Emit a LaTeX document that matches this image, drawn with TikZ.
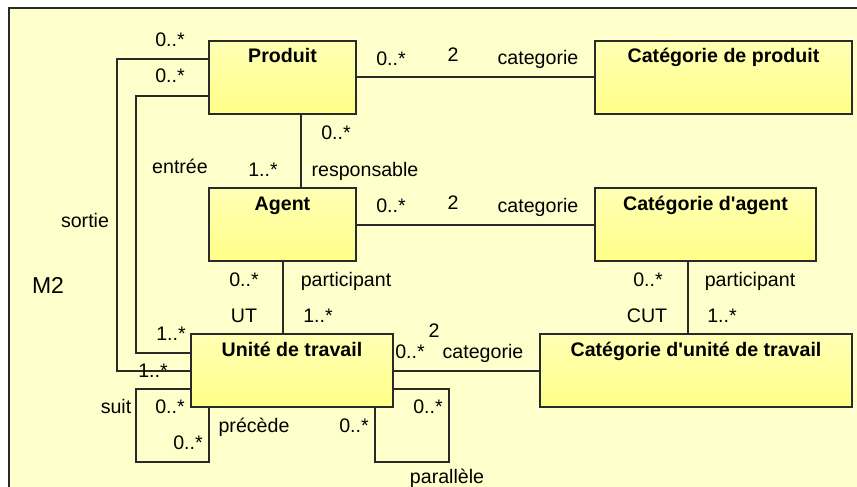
\documentclass[tikz,border=0pt]{standalone}
\usepackage{fontspec}
\setmainfont{Liberation Sans}
\usetikzlibrary{positioning}
\definecolor{framebg}{HTML}{FFFFCC}
\definecolor{boxtop}{HTML}{FFFFB4}
\definecolor{boxbot}{HTML}{FFFF88}
\definecolor{linecol}{HTML}{2A2A2A}

\begin{document}
\begin{tikzpicture}[x=1pt, y=-1pt,
    entity/.style={rectangle, draw=linecol, line width=2pt, top color=boxtop, bottom color=boxbot,
      anchor=north west, inner ysep=0pt, text height=22pt, text depth=51pt,
      font=\fontsize{19.6}{22}\selectfont\bfseries},
    lbl/.style={anchor=base, inner sep=0pt, font=\fontsize{19.6}{22}\selectfont},
    assoc/.style={draw=linecol, line width=2pt}]
  \useasboundingbox (0,0) rectangle (857,487);
  \clip (0,0) rectangle (857,487);
  \fill[white] (0,0) rectangle (857,487);
  \draw[fill=framebg, draw=linecol, line width=2pt] (9,8) rectangle (900,520);

  % classes
  \node[entity, minimum width=147pt] (produit) at (208,40) {Produit};
  \node[entity, minimum width=257pt] (catprod) at (594,40) {Catégorie de produit};
  \node[entity, minimum width=147pt] (agent) at (208,187) {Agent};
  \node[entity, minimum width=221pt] (catagent) at (594,187) {Catégorie d\textquotesingle agent};
  \node[entity, minimum width=202pt] (ut) at (190,333) {Unité de travail};
  \node[entity, minimum width=312pt] (catut) at (539,333) {Catégorie d\textquotesingle unité de travail};

  % associations
  \draw[assoc] (produit) -- (catprod);
  \draw[assoc] (agent) -- (catagent);
  \draw[assoc] (ut) -- (catut);
  \draw[assoc] ([xshift=18pt]produit.south) -- ([xshift=18pt]agent.north);
  \draw[assoc] (agent.south) -- (agent.south |- ut.north);
  \draw[assoc] ([xshift=-18pt]catagent.south) -- ([xshift=-18pt]catagent.south |- catut.north);
  \draw[assoc] ([yshift=18pt]produit.west) -- ++(-91,0) |- (ut.west);
  \draw[assoc] ([yshift=-18pt]produit.west) -- ++(-72,0) |- ([yshift=18pt]ut.west);
  \draw[assoc] ([yshift=-18pt]ut.west) -| ++(-54,73) -| ([xshift=19pt]ut.south west);
  \draw[assoc] ([yshift=-18pt]ut.east) -| ++(55,73) -| ([xshift=-19pt]ut.south east);

  % roles and multiplicities
  \node[lbl] (m2) at (48,293) {\fontsize{23}{26}\selectfont M2};
  \node[lbl] (sortieP) at (170,47) {0..*};
  \node[lbl] (entreeP) at (170,83) {0..*};
  \node[lbl] (catpA) at (391,66) {0..*};
  \node[lbl] (catpB) at (453,62) {2};
  \node[lbl] (catpR) at (538,65) {categorie};
  \node[lbl] (respA) at (336,139) {0..*};
  \node[lbl] (respB) at (263,176) {1..*};
  \node[lbl] (respR) at (365,176) {responsable};
  \node[lbl] (entreeR) at (180,173) {entrée};
  \node[lbl] (sortieR) at (85,227) {sortie};
  \node[lbl] (catgA) at (391,212) {0..*};
  \node[lbl] (catgB) at (453,209) {2};
  \node[lbl] (catgR) at (538,212) {categorie};
  \node[lbl] (partA) at (244,286) {0..*};
  \node[lbl] (partR) at (346,286) {participant};
  \node[lbl] (partU) at (244,322) {UT};
  \node[lbl] (partB) at (318,322) {1..*};
  \node[lbl] (cpartA) at (648,286) {0..*};
  \node[lbl] (cpartR) at (750,286) {participant};
  \node[lbl] (cpartU) at (647,322) {CUT};
  \node[lbl] (cpartB) at (722,322) {1..*};
  \node[lbl] (entreeU) at (171,340) {1..*};
  \node[lbl] (sortieU) at (153,377) {1..*};
  \node[lbl] (catuB) at (434,337) {2};
  \node[lbl] (catuA) at (410,358) {0..*};
  \node[lbl] (catuR) at (483,358) {categorie};
  \node[lbl] (suitR) at (116,413) {suit};
  \node[lbl] (suitA) at (170,413) {0..*};
  \node[lbl] (suitB) at (188,449) {0..*};
  \node[lbl] (precR) at (254,432) {précède};
  \node[lbl] (parA) at (354,432) {0..*};
  \node[lbl] (parB) at (428,413) {0..*};
  \node[lbl] (parR) at (447,483) {parallèle};
\end{tikzpicture}
\end{document}
